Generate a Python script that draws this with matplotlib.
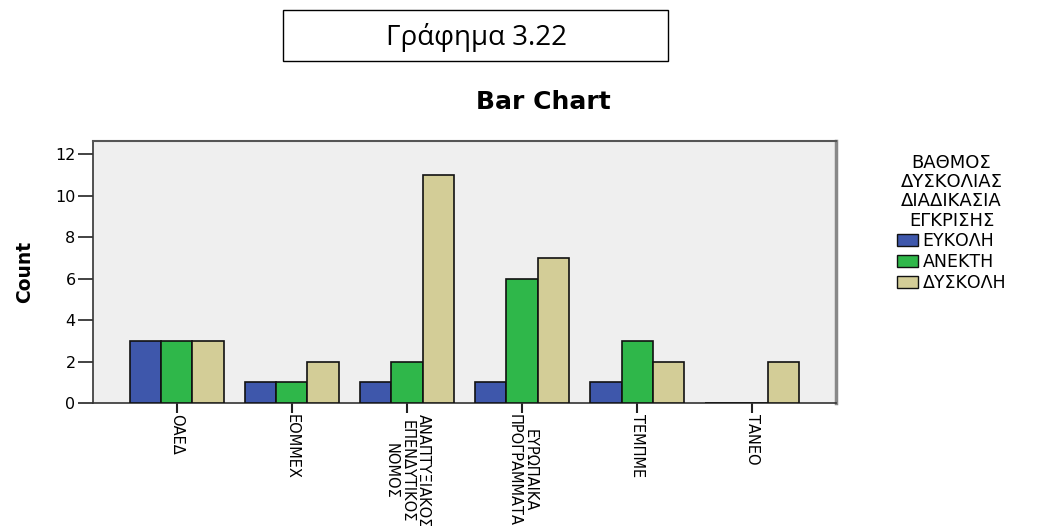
import matplotlib.pyplot as plt
import matplotlib.patches as mpatches
import numpy as np

categories = ['ΟΑΕΔ', 'ΕΟΜΜΕΧ', 'ΑΝΑΠΤΥΞΙΑΚΟΣ\nΕΠΕΝΔΥΤΙΚΟΣ\nΝΟΜΟΣ',
              'ΕΥΡΩΠΑΙΚΑ\nΠΡΟΓΡΑΜΜΑΤΑ', 'ΤΕΜΠΜΕ', 'ΤΑΝΕΟ']
series_names = ['ΕΥΚΟΛΗ', 'ΑΝΕΚΤΗ', 'ΔΥΣΚΟΛΗ']
eykolh = [3, 1, 1, 1, 1, 0]
anekth = [3, 1, 2, 6, 3, 0]
dyskolh = [3, 2, 11, 7, 2, 2]
legend_title = 'ΒΑΘΜΟΣ\nΔΥΣΚΟΛΙΑΣ\nΔΙΑΔΙΚΑΣΙΑ\nΕΓΚΡΙΣΗΣ'
colors = ['#3e57ab', '#2fb74a', '#d3cd97']

plt.rcParams['font.family'] = ['DejaVu Sans']

fig = plt.figure(figsize=(10.54, 5.26), dpi=100)
ax = fig.add_axes([0.0882, 0.2338, 0.7050, 0.4982])
ax.set_facecolor('#efefef')

x = np.arange(len(categories))
width = 0.27
for i, (vals, col) in enumerate(zip([eykolh, anekth, dyskolh], colors)):
    ax.bar(x + (i - 1) * width, vals, width, color=col,
           edgecolor='#111111', linewidth=1.2, zorder=3)

ax.set_xlim(-0.73, 5.73)
ax.set_ylim(0, 12.63)
ax.set_yticks(range(0, 13, 2))
ax.set_xticks(x)
ax.set_xticklabels(categories, rotation=270, ha='center', va='top',
                   fontsize=10.5, linespacing=1.1)
ax.tick_params(axis='y', labelsize=11.5, length=10.5, width=1.2,
               color='#222222', pad=2)
ax.tick_params(axis='x', length=7, width=1.5, color='#222222', pad=1)

for s in ['left', 'bottom']:
    ax.spines[s].set_color('#333333')
    ax.spines[s].set_linewidth(1.2)
ax.spines['top'].set_color('#555555')
ax.spines['top'].set_linewidth(1.5)
ax.spines['right'].set_color('#888888')
ax.spines['right'].set_linewidth(2.5)

ax.set_ylabel('Count', fontsize=13.5, fontweight='bold')
ax.yaxis.set_label_coords(-0.079, 0.5)

fig.text(0.516, 1 - 102 / 526, 'Bar Chart', ha='center', va='center',
         fontsize=18, fontweight='bold')

# caption box above the chart
box = mpatches.Rectangle((283 / 1054, 1 - 61 / 526), 385 / 1054, 51 / 526,
                         transform=fig.transFigure, fill=False,
                         edgecolor='black', linewidth=1.0)
fig.patches.append(box)
fig.text(476 / 1054, 1 - 37 / 526, 'Γράφημα 3.22', ha='center', va='center',
         fontsize=20, family=['Open Sans', 'DejaVu Sans'])

handles = [mpatches.Patch(facecolor=c, edgecolor='#111111', linewidth=1.0)
           for c in colors]
leg = fig.legend(handles, series_names, title=legend_title,
                 loc='upper left', bbox_to_anchor=(888 / 1054, 1 - 145 / 526),
                 frameon=False, fontsize=12.5, title_fontsize=13,
                 handlelength=1.2, handleheight=0.7, handletextpad=0.3,
                 labelspacing=0.15, borderpad=0)
leg.get_title().set_linespacing(1.1)
leg.get_title().set_multialignment('center')

plt.savefig('out.png', dpi=100)
